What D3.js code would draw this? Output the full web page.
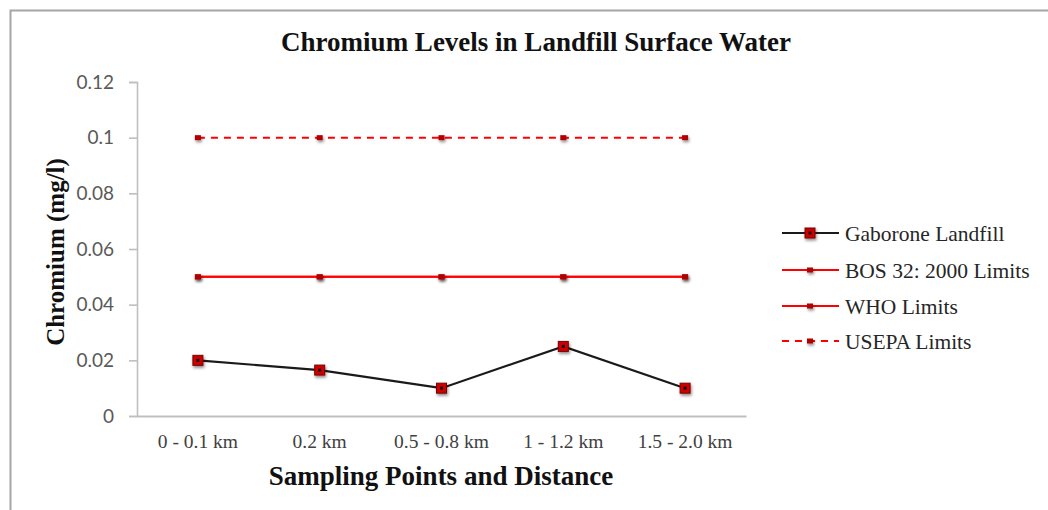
<!DOCTYPE html>
<html>
<head>
<meta charset="utf-8">
<script src="https://cdn.jsdelivr.net/npm/d3@7"></script>
<style>
  html, body { margin: 0; padding: 0; background: #fff; }
  svg { display: block; }
</style>
</head>
<body>
<svg id="chart" width="1048" height="510"></svg>
<script>
// Sampling points along the distance from the landfill
const categories = ["0 - 0.1 km", "0.2 km", "0.5 - 0.8 km", "1 - 1.2 km", "1.5 - 2.0 km"];

// Measured chromium (mg/l) and the regulatory limits
const gaborone = [0.02, 0.0165, 0.01, 0.025, 0.01];
const bos32    = [0.05, 0.05, 0.05, 0.05, 0.05];
const who      = [0.05, 0.05, 0.05, 0.05, 0.05];
const usepa    = [0.1, 0.1, 0.1, 0.1, 0.1];

const yTicks = [0, 0.02, 0.04, 0.06, 0.08, 0.1, 0.12];
const yTickLabels = ["0", "0.02", "0.04", "0.06", "0.08", "0.1", "0.12"];

const seriesNames = ["Gaborone Landfill", "BOS 32: 2000 Limits", "WHO Limits", "USEPA Limits"];

const svg = d3.select("#chart");
const serif = "'Liberation Serif', 'Times New Roman', serif";
const sans = "Lato, 'Open Sans', sans-serif";

// Marker shadow
const defs = svg.append("defs");
const f = defs.append("filter").attr("id", "shadow")
  .attr("x", "-100%").attr("y", "-100%").attr("width", "300%").attr("height", "300%");
f.append("feDropShadow").attr("dx", 1).attr("dy", 2).attr("stdDeviation", 1.4)
  .attr("flood-color", "#000").attr("flood-opacity", 0.45);

// Outer chart frame
svg.append("path")
  .attr("d", "M10.5,510 V10.5 H1048")
  .attr("fill", "none").attr("stroke", "#a6a6a6").attr("stroke-width", 2);

const x = d3.scaleBand().domain(categories).range([137, 746]);
const y = d3.scaleLinear().domain([0, 0.12]).range([416, 82]);
const cx = d => x(d) + x.bandwidth() / 2;

// Y axis
const yAxis = svg.append("g").attr("transform", "translate(137,0)")
  .call(d3.axisLeft(y).tickValues(yTicks).tickSize(8).tickPadding(15)
    .tickFormat((d, i) => yTickLabels[i]));
yAxis.select(".domain").attr("stroke", "#bfbfbf").attr("stroke-width", 1.6);
yAxis.selectAll(".tick line").attr("stroke", "#bfbfbf").attr("stroke-width", 1.6);
yAxis.selectAll(".tick text")
  .attr("font-family", sans).attr("font-size", 19).attr("fill", "#595959");

// X axis
const xAxis = svg.append("g").attr("transform", "translate(0,416)")
  .call(d3.axisBottom(x).tickSize(0).tickPadding(18));
xAxis.select(".domain").attr("stroke", "#bfbfbf").attr("stroke-width", 2);
xAxis.selectAll(".tick text")
  .attr("font-family", serif).attr("font-size", 19.5).attr("fill", "#404040");

// Lines
const line = d3.line().x((d, i) => cx(categories[i])).y(d => y(d));

function limitSeries(values, dashed) {
  svg.append("path").datum(values)
    .attr("d", line).attr("fill", "none")
    .attr("stroke", "#ff0000").attr("stroke-width", 2)
    .attr("stroke-dasharray", dashed ? "7,6" : null);
  svg.append("g").selectAll("rect").data(values).join("rect")
    .attr("x", (d, i) => cx(categories[i]) - 3)
    .attr("y", d => y(d) - 2.5)
    .attr("width", 6).attr("height", 5)
    .attr("fill", "#b00000").attr("filter", "url(#shadow)");
}
limitSeries(usepa, true);
limitSeries(who, false);
limitSeries(bos32, false);

svg.append("path").datum(gaborone)
  .attr("d", line).attr("fill", "none")
  .attr("stroke", "#1a1a1a").attr("stroke-width", 2.2);

function squareMarker(g, px, py) {
  g.append("rect").attr("x", px - 5).attr("y", py - 5).attr("width", 10).attr("height", 10)
    .attr("fill", "#cc0000").attr("stroke", "#7a0000").attr("stroke-width", 1)
    .attr("filter", "url(#shadow)");
  g.append("rect").attr("x", px - 1.5).attr("y", py - 1.5).attr("width", 3).attr("height", 3)
    .attr("fill", "#111");
}
const gm = svg.append("g");
gaborone.forEach((v, i) => squareMarker(gm, cx(categories[i]), y(v)));

// Legend
const legendRows = [233, 270, 306, 341];
const legend = svg.append("g");
seriesNames.forEach((name, i) => {
  const ly = legendRows[i];
  const isG = i === 0;
  legend.append("line")
    .attr("x1", 782).attr("x2", 839).attr("y1", ly).attr("y2", ly)
    .attr("stroke", isG ? "#1a1a1a" : "#ff0000").attr("stroke-width", 2)
    .attr("stroke-dasharray", i === 3 ? "7,6" : null);
  if (isG) {
    squareMarker(legend, 810, ly);
  } else {
    legend.append("rect").attr("x", 807).attr("y", ly - 2.5).attr("width", 6).attr("height", 5)
      .attr("fill", "#b00000").attr("filter", "url(#shadow)");
  }
  legend.append("text")
    .attr("x", 845).attr("y", ly).attr("dy", "0.35em")
    .attr("font-family", serif).attr("font-size", 21.5).attr("fill", "#262626")
    .text(name);
});

// Titles
svg.append("text")
  .attr("x", 536).attr("y", 42).attr("dy", "0.35em").attr("text-anchor", "middle")
  .attr("font-family", serif).attr("font-weight", "bold").attr("font-size", 27).attr("fill", "#111")
  .text("Chromium Levels in Landfill Surface Water");

svg.append("text")
  .attr("x", 441).attr("y", 476).attr("dy", "0.35em").attr("text-anchor", "middle")
  .attr("font-family", serif).attr("font-weight", "bold").attr("font-size", 27).attr("fill", "#111")
  .text("Sampling Points and Distance");

svg.append("text")
  .attr("transform", "translate(55,252) rotate(-90)")
  .attr("dy", "0.35em").attr("text-anchor", "middle")
  .attr("font-family", serif).attr("font-weight", "bold").attr("font-size", 25).attr("fill", "#111")
  .text("Chromium (mg/l)");
</script>
</body>
</html>
